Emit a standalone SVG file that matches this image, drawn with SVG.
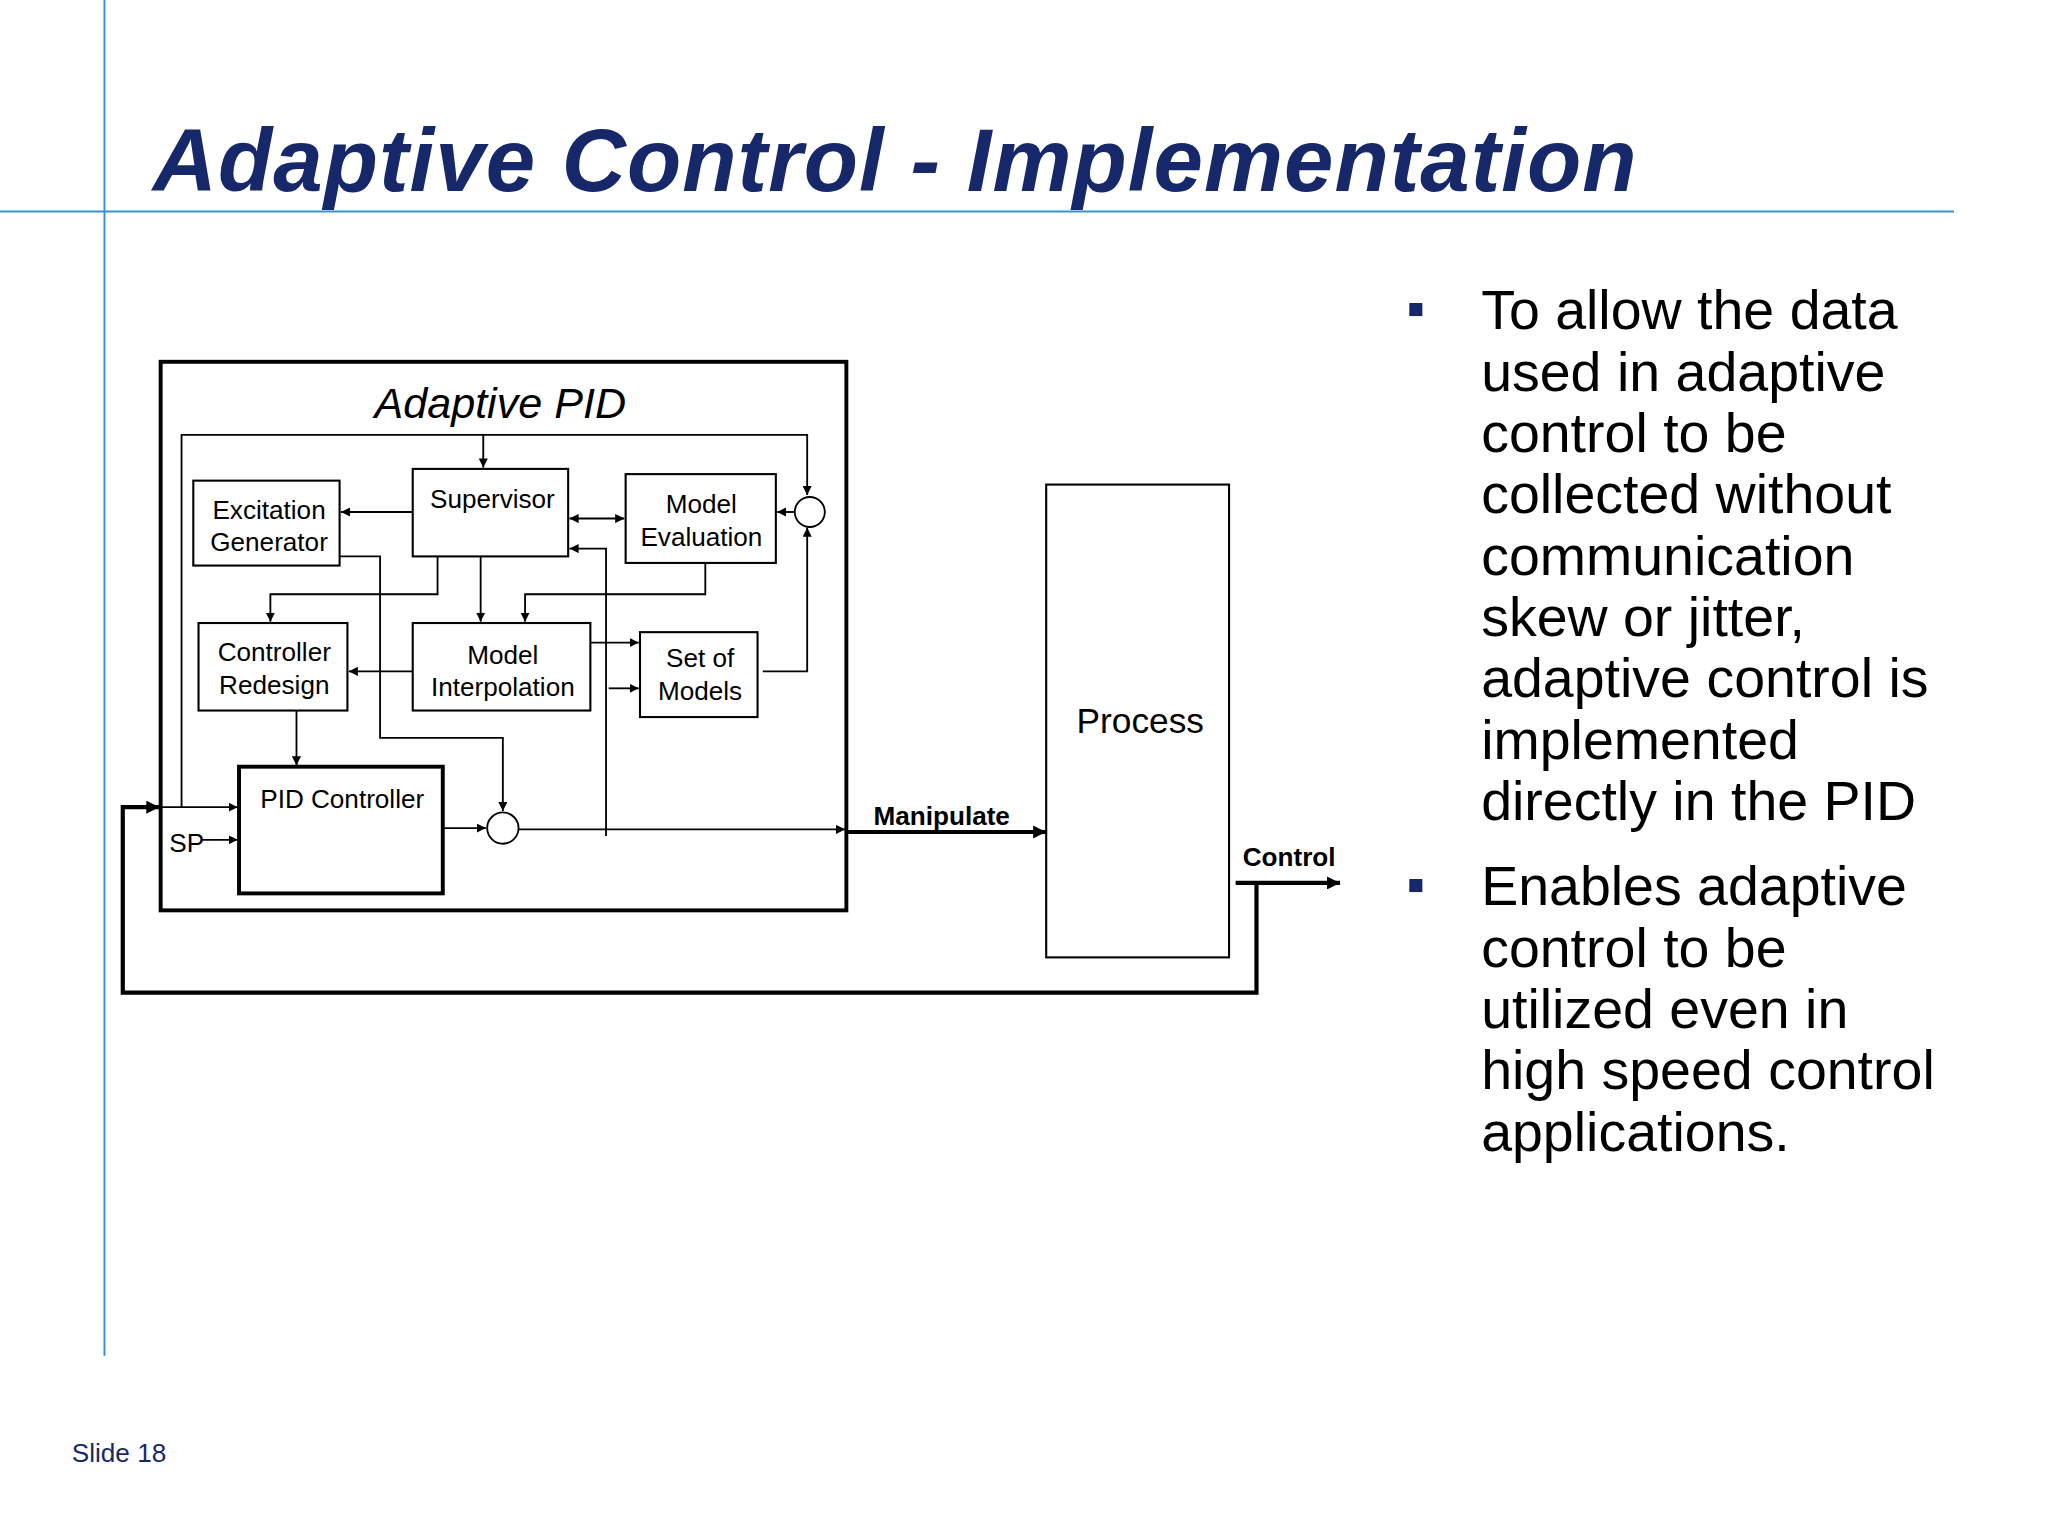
<svg xmlns="http://www.w3.org/2000/svg" width="2048" height="1536" viewBox="0 0 2048 1536">
<defs>
<marker id="a" viewBox="0 0 10 10" refX="10" refY="5" markerWidth="7" markerHeight="7" markerUnits="userSpaceOnUse" orient="auto-start-reverse"><path d="M0,0 L10,5 L0,10 z" fill="#000"/></marker>
<marker id="b" viewBox="0 0 10 10" refX="10" refY="5" markerWidth="10" markerHeight="10" markerUnits="userSpaceOnUse" orient="auto"><path d="M0,0 L10,5 L0,10 z" fill="#000"/></marker>
</defs>
<style>
.bx{fill:#fff;stroke:#000;stroke-width:1.6}
.t{font-family:"Liberation Sans",Arial,sans-serif;font-size:20px;text-anchor:middle;fill:#000}
.c{fill:none;stroke:#000;stroke-width:1.4}
.k{fill:none;stroke:#000;stroke-width:3.2}
.bl{font-family:"Liberation Sans",Arial,sans-serif;font-size:42.5px;fill:#000}
</style>
<rect width="2048" height="1536" fill="#fff"/>
<g transform="scale(1.306122)">
<line x1="80" y1="0" x2="80" y2="1038" stroke="#3a8fd0" stroke-width="1.5"/>
<line x1="0" y1="162" x2="1496" y2="162" stroke="#3a8fd0" stroke-width="1.5"/>
<text x="117" y="146" font-family="Liberation Sans,Arial,sans-serif" font-size="68" font-weight="bold" font-style="italic" fill="#16286a" textLength="1136">Adaptive Control - Implementation</text>
<g id="adaptive-pid"><rect x="123" y="277" width="525" height="420" fill="none" stroke="#000" stroke-width="3"/>
<text x="383" y="320" font-family="Liberation Sans,Arial,sans-serif" font-size="33" font-style="italic" text-anchor="middle">Adaptive PID</text></g>
<g id="connectors">
<polyline class="c" points="139,618 139,333 618,333 618,379" marker-end="url(#a)"/>
<line class="c" x1="370" y1="333" x2="370" y2="358" marker-end="url(#a)"/>
<line class="c" x1="316" y1="392" x2="261" y2="392" marker-end="url(#a)"/>
<line class="c" x1="436" y1="397" x2="478" y2="397" marker-start="url(#a)" marker-end="url(#a)"/>
<polyline class="c" points="464,640 464,420 436,420" marker-end="url(#a)"/>
<line class="c" x1="609" y1="392" x2="595" y2="392" marker-end="url(#a)"/>
<polyline class="c" points="584,514 618,514 618,404" marker-end="url(#a)"/>
<polyline class="c" points="260,426 291,426 291,565 385,565 385,621" marker-end="url(#a)"/>
<polyline class="c" points="335,426 335,455 207,455 207,476" marker-end="url(#a)"/>
<line class="c" x1="368" y1="426" x2="368" y2="476" marker-end="url(#a)"/>
<polyline class="c" points="540,431 540,455 402,455 402,476" marker-end="url(#a)"/>
<line class="c" x1="316" y1="514" x2="267" y2="514" marker-end="url(#a)"/>
<line class="c" x1="448" y1="492" x2="489" y2="492" marker-end="url(#a)"/>
<line class="c" x1="466" y1="527" x2="489" y2="527" marker-end="url(#a)"/>
<line class="c" x1="227" y1="544" x2="227" y2="586" marker-end="url(#a)"/>
<line class="c" x1="123" y1="618" x2="182" y2="618" marker-end="url(#a)"/>
<line class="c" x1="155" y1="643" x2="182" y2="643" marker-end="url(#a)"/>
<line class="c" x1="340" y1="634" x2="372" y2="634" marker-end="url(#a)"/>
<line class="c" x1="397" y1="635" x2="647" y2="635" marker-end="url(#a)"/>
<line class="k" x1="648" y1="637" x2="801" y2="637" marker-end="url(#b)"/>
<line class="k" x1="946" y1="676" x2="1026" y2="676" marker-end="url(#b)"/>
<polyline class="k" points="962,676 962,760 94,760 94,618 122,618" marker-end="url(#b)"/>
</g>
<g id="supervisor"><rect class="bx" x="316" y="359" width="119" height="67"/><text class="t" x="377" y="389">Supervisor</text></g>
<g id="excitation"><rect class="bx" x="148" y="368" width="112" height="65"/><text class="t" x="206" y="397">Excitation</text><text class="t" x="206" y="422">Generator</text></g>
<g id="model-eval"><rect class="bx" x="479" y="363" width="115" height="68"/><text class="t" x="537" y="393">Model</text><text class="t" x="537" y="418">Evaluation</text></g>
<g id="sum1"><circle cx="620" cy="392" r="11.5" fill="#fff" stroke="#000" stroke-width="1.4"/></g>
<g id="ctrl-redesign"><rect class="bx" x="152" y="477" width="114" height="67"/><text class="t" x="210" y="506">Controller</text><text class="t" x="210" y="531">Redesign</text></g>
<g id="model-interp"><rect class="bx" x="316" y="477" width="136" height="67"/><text class="t" x="385" y="508">Model</text><text class="t" x="385" y="533">Interpolation</text></g>
<g id="set-models"><rect class="bx" x="490" y="484" width="90" height="65"/><text class="t" x="536" y="511">Set of</text><text class="t" x="536" y="536">Models</text></g>
<g id="pid"><rect x="183" y="587" width="156" height="97" fill="#fff" stroke="#000" stroke-width="3"/><text class="t" x="262" y="619">PID Controller</text></g>
<g id="sum2"><circle cx="385" cy="634" r="12" fill="#fff" stroke="#000" stroke-width="1.4"/></g>
<text class="t" x="143" y="652">SP</text>
<g id="process"><rect x="801" y="371" width="140" height="362" fill="#fff" stroke="#000" stroke-width="1.6"/><text class="t" x="873" y="561" style="font-size:27px">Process</text></g>
<text class="t" x="721" y="632" style="font-weight:bold;font-size:20px">Manipulate</text>
<text class="t" x="987" y="663" style="font-weight:bold;font-size:20px">Control</text>
<rect x="1079" y="232" width="10" height="10" fill="#16286a"/>
<rect x="1079" y="673" width="10" height="10" fill="#16286a"/>
<text class="bl" x="1134" y="252">To allow the data</text>
<text class="bl" x="1134" y="299">used in adaptive</text>
<text class="bl" x="1134" y="346">control to be</text>
<text class="bl" x="1134" y="393">collected without</text>
<text class="bl" x="1134" y="440">communication</text>
<text class="bl" x="1134" y="487">skew or jitter,</text>
<text class="bl" x="1134" y="534">adaptive control is</text>
<text class="bl" x="1134" y="581">implemented</text>
<text class="bl" x="1134" y="628">directly in the PID</text>
<text class="bl" x="1134" y="693">Enables adaptive</text>
<text class="bl" x="1134" y="740">control to be</text>
<text class="bl" x="1134" y="787">utilized even in</text>
<text class="bl" x="1134" y="834">high speed control</text>
<text class="bl" x="1134" y="881">applications.</text>
<text x="55" y="1119" font-family="Liberation Sans,Arial,sans-serif" font-size="20" fill="#16286a">Slide 18</text>
</g>
</svg>
